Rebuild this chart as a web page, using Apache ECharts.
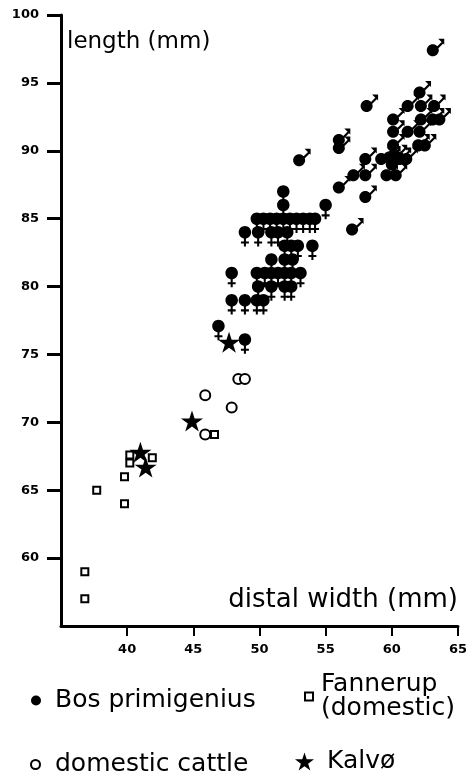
<!DOCTYPE html>
<html>
<head>
<meta charset="utf-8">
<title>length / distal width</title>
<script src="https://cdn.jsdelivr.net/npm/echarts@6/dist/echarts.min.js"></script>
<style>
  html, body { margin: 0; padding: 0; background: #fff; }
  #chart { width: 470px; height: 771px; }
</style>
</head>
<body>
<div id="chart"></div>
<script>
// [distal width, length] in mm
var bosMale = [
  [53.0, 89.3], [56.0, 90.8], [56.0, 90.2], [56.0, 87.3], [57.0, 84.2],
  [57.1, 88.2], [58.0, 88.2], [58.0, 86.6], [58.0, 89.4], [58.1, 93.3],
  [59.2, 89.4], [59.6, 88.2], [59.8, 89.5], [60.0, 89.0], [60.1, 90.4],
  [60.1, 91.4], [60.1, 92.3], [60.3, 88.2], [60.3, 89.6], [60.6, 89.4],
  [61.1, 89.4], [61.2, 91.4], [61.2, 93.3], [62.0, 90.4], [62.5, 90.4],
  [62.1, 91.4], [62.2, 92.3], [62.2, 93.3], [62.1, 94.3], [63.1, 92.3],
  [63.6, 92.3], [63.2, 93.3], [63.1, 97.4]
];
var bosFemale = [
  [46.9, 77.1], [48.9, 76.1],
  [47.9, 79], [48.9, 79], [49.8, 79], [50.3, 79],
  [49.9, 80], [50.9, 80], [51.9, 80], [52.4, 80],
  [47.9, 81], [49.8, 81], [50.4, 81], [50.9, 81], [51.4, 81], [51.9, 81], [52.4, 81], [53.1, 81],
  [50.9, 82], [51.9, 82], [52.5, 82],
  [51.9, 83], [52.4, 83], [52.9, 83], [54.0, 83],
  [48.9, 84], [49.9, 84], [50.9, 84], [51.4, 84], [52.1, 84],
  [49.8, 85], [50.3, 85], [50.8, 85], [51.3, 85], [51.8, 85],
  [52.3, 85], [52.8, 85], [53.3, 85], [53.8, 85], [54.2, 85],
  [51.8, 86], [51.8, 87], [55.0, 86]
];
var domesticCattle = [[45.9, 69.1], [47.9, 71.1], [45.9, 72.0], [48.4, 73.2], [48.9, 73.2]];
var fannerup = [
  [36.8, 59.0], [36.8, 57.0], [37.7, 65.0], [39.8, 64.0], [39.8, 66.0],
  [40.2, 67.0], [40.2, 67.6], [41.9, 67.4], [46.6, 69.1]
];
var kalvo = [[41.0, 67.8], [41.4, 66.7], [44.9, 70.1], [47.7, 75.9]];

var xTicks = [40, 45, 50, 55, 60, 65];
var yTicks = [60, 65, 70, 75, 80, 85, 90, 95, 100];

// symbols: filled circle with male arrow / female cross, and a star
var MALE = 'path://M0,10.5 C0,7.46 2.46,5 5.5,5 C8.54,5 11,7.46 11,10.5 C11,13.54 8.54,16 5.5,16 C2.46,16 0,13.54 0,10.5 Z' +
  ' M7.7,8.7 L13.6,2.8 L15,4.2 L9.1,10.1 Z M10.5,0 L16,0 L16,5.5 Z';
var FEMALE = 'path://M0,5.5 C0,2.46 2.46,0 5.5,0 C8.54,0 11,2.46 11,5.5 C11,8.54 8.54,11 5.5,11 C2.46,11 0,8.54 0,5.5 Z' +
  ' M4.6,10 L6.4,10 L6.4,18 L4.6,18 Z M2,13.6 L9,13.6 L9,15.4 L2,15.4 Z';
var STAR = 'path://M50,0 L61.23,34.55 L97.55,34.55 L68.16,55.9 L79.39,90.45 L50,69.1 L20.61,90.45 L31.84,55.9 L2.45,34.55 L38.77,34.55 Z';

var font = 'DejaVu Sans';
function legendText(padLeft) {
  return { fontFamily: font, fontSize: 25, color: '#000', lineHeight: 24, padding: [0, 0, 0, padLeft] };
}

var chart = echarts.init(document.getElementById('chart'));
var option = {
  backgroundColor: '#fff',
  animation: false,
  title: [
    { text: 'length (mm)', left: 67, top: 31, padding: 0,
      textStyle: { fontFamily: font, fontWeight: 'normal', fontSize: 23, color: '#000' } },
    { text: 'distal width (mm)', right: 12, top: 587, padding: 0,
      textStyle: { fontFamily: font, fontWeight: 'normal', fontSize: 26, color: '#000' } }
  ],
  legend: [
    { data: [{ name: 'Bos primigenius', icon: 'circle' }], left: 31, top: 688, padding: 0,
      itemWidth: 10, itemHeight: 10, textStyle: legendText(9) },
    { data: [{ name: 'domestic cattle', icon: 'emptyCircle' }], left: 30, top: 752, padding: 0,
      itemWidth: 9, itemHeight: 9, textStyle: legendText(10) },
    { data: [{ name: 'Fannerup (domestic)', icon: 'emptyRect' }], left: 304, top: 672, padding: 0,
      itemWidth: 8, itemHeight: 8, textStyle: legendText(3),
      formatter: function () { return 'Fannerup\n(domestic)'; } },
    { data: [{ name: 'Kalvø', icon: STAR }], left: 295, top: 749, padding: 0,
      itemWidth: 19, itemHeight: 19, textStyle: legendText(8) }
  ],
  grid: { left: 61, right: 10, top: 15, bottom: 145 },
  xAxis: {
    type: 'value', min: 35, max: 65, interval: 5,
    axisLine: { lineStyle: { color: '#000', width: 3 } },
    axisTick: { customValues: xTicks, length: 10, lineStyle: { color: '#000', width: 2 } },
    axisLabel: { customValues: xTicks, margin: 17, color: '#000',
      fontFamily: font, fontWeight: 'bold', fontSize: 13 },
    splitLine: { show: false }
  },
  yAxis: {
    type: 'value', min: 55, max: 100, interval: 5,
    axisLine: { lineStyle: { color: '#000', width: 3 } },
    axisTick: { customValues: yTicks, length: 14, lineStyle: { color: '#000', width: 3 } },
    axisLabel: { customValues: yTicks, margin: 22, color: '#000',
      fontFamily: font, fontWeight: 'bold', fontSize: 13 },
    splitLine: { show: false }
  },
  series: [
    { name: 'Bos primigenius', type: 'scatter', data: bosFemale,
      symbol: FEMALE, symbolSize: [12.5, 20.5], symbolOffset: [0, 4],
      itemStyle: { color: '#000', opacity: 1 } },
    { name: 'Bos primigenius', type: 'scatter', data: bosMale,
      symbol: MALE, symbolSize: [17.5, 17.5], symbolOffset: [2.7, -2.7],
      itemStyle: { color: '#000', opacity: 1 } },
    { name: 'domestic cattle', type: 'scatter', data: domesticCattle,
      symbol: 'emptyCircle', symbolSize: 10,
      itemStyle: { color: '#000', borderColor: '#000', borderWidth: 1.8, opacity: 1 } },
    { name: 'Fannerup (domestic)', type: 'scatter', data: fannerup,
      symbol: 'emptyRect', symbolSize: 7,
      itemStyle: { color: '#000', borderColor: '#000', borderWidth: 1.8, opacity: 1 } },
    { name: 'Kalvø', type: 'scatter', data: kalvo,
      symbol: STAR, symbolSize: 22, symbolKeepAspect: true, z: 5,
      itemStyle: { color: '#000', opacity: 1 } }
  ]
};
chart.setOption(option);
</script>
</body>
</html>
